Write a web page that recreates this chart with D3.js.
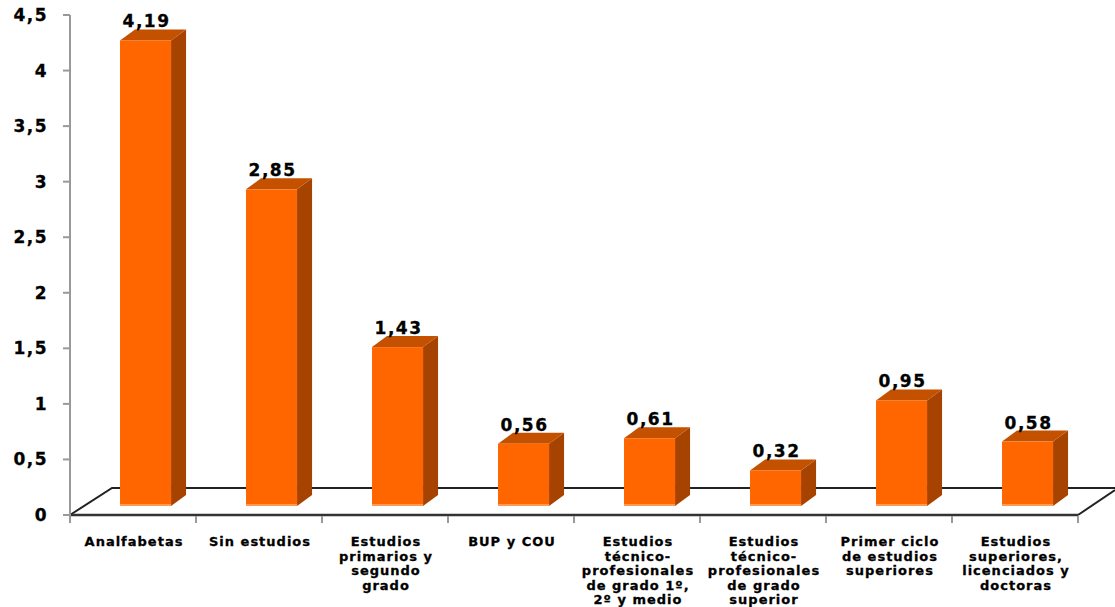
<!DOCTYPE html>
<html><head><meta charset="utf-8">
<script src="https://cdn.jsdelivr.net/npm/d3@7/dist/d3.min.js"></script>
<style>body{margin:0;background:#fff}svg{display:block}text{font-family:"DejaVu Sans",Verdana,sans-serif;font-weight:bold;fill:#000;stroke:#000;stroke-width:0.3px}</style>
</head><body>
<script>
const categories = [
  "Analfabetas",
  "Sin estudios",
  "Estudios\nprimarios y\nsegundo\ngrado",
  "BUP y COU",
  "Estudios\ntécnico-\nprofesionales\nde grado 1º,\n2º y medio",
  "Estudios\ntécnico-\nprofesionales\nde grado\nsuperior",
  "Primer ciclo\nde estudios\nsuperiores",
  "Estudios\nsuperiores,\nlicenciados y\ndoctoras"
];
const values = [4.19, 2.85, 1.43, 0.56, 0.61, 0.32, 0.95, 0.58];
const yTicks = [0, 0.5, 1, 1.5, 2, 2.5, 3, 3.5, 4, 4.5];

const W = 1115, H = 607;
const svg = d3.select("body").append("svg").attr("width", W).attr("height", H);
const fmt = v => String(v).replace(".", ",");

const x = d3.scaleBand().domain(categories).range([70, 1078]).padding(0);
const y = d3.scaleLinear().domain([0, 4.5]).range([515, 15]);
const floorDX = 42, floorDY = -27;
const midOff = -9;          // bars sit at mid depth of floor
const barDX = 15, barDY = -11;
const bw = x.bandwidth();

// floor back lines
const x0 = x.range()[0], x1 = x.range()[1];
svg.append("path")
  .attr("d", `M${x0},${y(0)} L${x0+floorDX},${y(0)+floorDY} L${x1+floorDX-5},${y(0)+floorDY}`)
  .attr("fill", "none").attr("stroke", "#222").attr("stroke-width", 2);
svg.append("path")
  .attr("d", `M${x1},${y(0)} L${x1+37},${y(0)-25}`)
  .attr("fill", "none").attr("stroke", "#222").attr("stroke-width", 2);

// bars
const g = svg.append("g");
categories.forEach((c, i) => {
  const v = values[i];
  const bx = x(c) + bw * 0.397;
  const w = bw * 0.405;
  const yt = y(v) + midOff, yb = y(0) + midOff;
  g.append("path")
    .attr("d", `M${bx+w},${yt} L${bx+w+barDX},${yt+barDY} L${bx+w+barDX},${yb+barDY} L${bx+w},${yb} Z`)
    .attr("fill", "#A64300");
  g.append("path")
    .attr("d", `M${bx},${yt} L${bx+barDX},${yt+barDY} L${bx+w+barDX},${yt+barDY} L${bx+w},${yt} Z`)
    .attr("fill", "#C45100");
  g.append("rect").attr("x", bx).attr("y", yt).attr("width", w).attr("height", yb - yt)
    .attr("fill", "#FF6600");
  g.append("rect").attr("x", bx).attr("y", yb - 2).attr("width", w).attr("height", 2)
    .attr("fill", "#FF9A55");
  g.append("text").attr("x", bx + w / 2 + 1).attr("y", yt + barDY - 2)
    .attr("text-anchor", "middle").attr("font-size", 17).attr("letter-spacing", 1.5)
    .text(fmt(v));
});

// front floor line
svg.append("line").attr("x1", x0).attr("x2", x1).attr("y1", y(0)).attr("y2", y(0))
  .attr("stroke", "#333").attr("stroke-width", 2.5);

// y axis
svg.append("line").attr("x1", 70).attr("x2", 70).attr("y1", y(4.5)).attr("y2", y(0) + 2)
  .attr("stroke", "#999").attr("stroke-width", 2);
yTicks.forEach(t => {
  svg.append("line").attr("x1", 63).attr("x2", 70).attr("y1", y(t)).attr("y2", y(t))
    .attr("stroke", "#999").attr("stroke-width", 2);
  svg.append("text").attr("x", 48).attr("y", y(t) + 6).attr("text-anchor", "end")
    .attr("font-size", 17).attr("letter-spacing", 1.5).text(fmt(t));
});

// x ticks at boundaries
const bounds = categories.map(c => x(c)).concat([x1]);
bounds.forEach(b => {
  svg.append("line").attr("x1", b).attr("x2", b).attr("y1", y(0) + 1).attr("y2", y(0) + 8)
    .attr("stroke", "#999").attr("stroke-width", 2);
});

// category labels
categories.forEach(c => {
  const lines = c.split("\n");
  const t = svg.append("text").attr("text-anchor", "middle").attr("font-size", 13)
    .attr("letter-spacing", 1);
  lines.forEach((l, k) => {
    t.append("tspan").attr("x", x(c) + bw / 2 + 1).attr("y", 546 + k * 14.6).text(l);
  });
});
</script>
</body></html>
